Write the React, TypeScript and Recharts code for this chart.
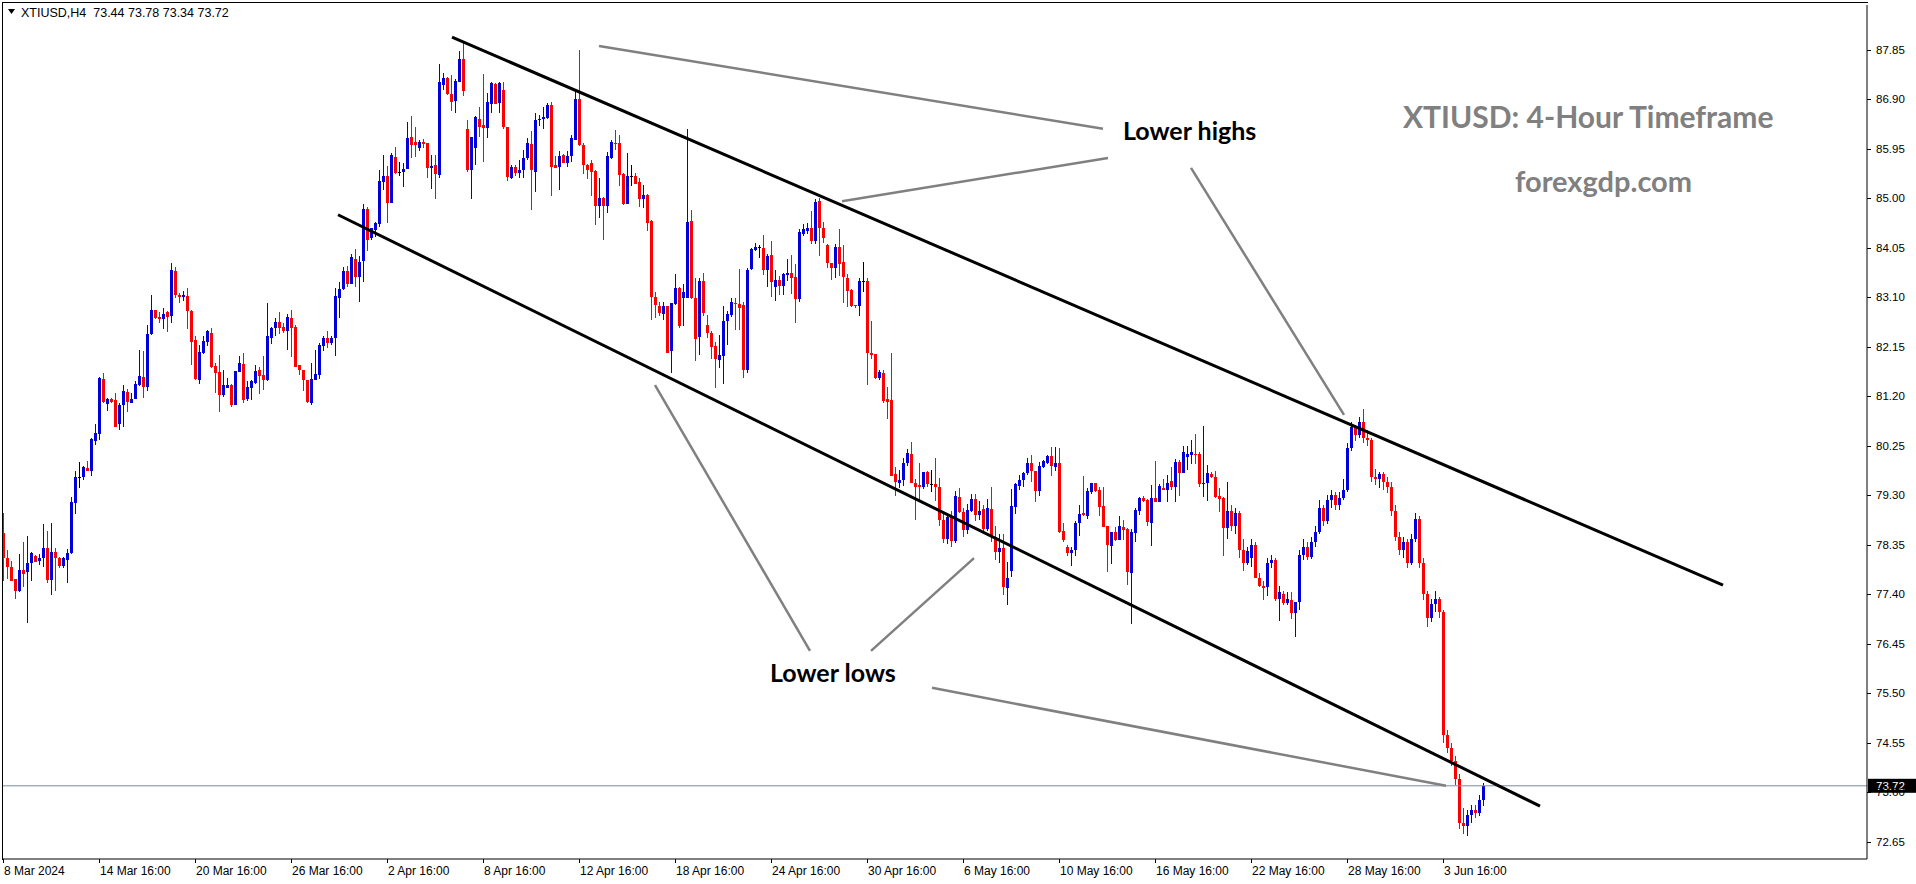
import React from 'react';
import { ComposedChart, Bar, XAxis, YAxis, ReferenceLine } from 'recharts';

// XTIUSD H4 candles (oldest first)
const opens = [
  78.57, 78.09, 77.91, 77.68, 77.46, 77.86, 77.82, 77.99, 78.13, 78.03,
  78.09, 78.28, 77.67, 78.21, 78.09, 77.94, 78.05, 78.19, 79.14, 79.64,
  79.65, 79.81, 79.77, 80.34, 80.48, 81.52, 81.04, 81.14, 81.12, 80.66,
  81.02, 81.27, 81.06, 81.14, 81.41, 81.57, 81.38, 82.39, 82.85, 82.71,
  82.67, 82.81, 82.74, 83.6, 83.14, 83.11, 83.12, 82.83, 82.28, 81.51,
  82.02, 82.24, 82.42, 81.78, 81.67, 81.23, 81.36, 81.41, 81.03, 81.67,
  81.82, 81.14, 81.35, 81.46, 81.7, 81.6, 81.51, 82.32, 82.5, 82.62,
  82.53, 82.44, 82.7, 82.53, 81.8, 81.7, 81.5, 81.07, 81.51, 81.6,
  82.16, 82.32, 82.21, 82.31, 83.09, 83.26, 83.6, 83.36, 83.84, 83.49,
  83.79, 84.79, 84.23, 84.39, 84.5, 85.31, 85.42, 84.91, 85.79, 85.5,
  85.5, 85.56, 86.17, 86.08, 85.97, 86.08, 86.05, 85.58, 85.63, 85.44,
  87.18, 87.31, 87.0, 86.86, 87.23, 87.67, 86.33, 85.54, 85.97, 86.52,
  86.4, 86.34, 86.81, 87.19, 86.82, 87.07, 86.37, 85.39, 85.6, 85.49,
  85.54, 85.76, 86.04, 85.51, 86.49, 86.51, 86.54, 86.79, 85.63, 85.6,
  85.83, 85.67, 85.81, 86.11, 86.91, 86.02, 85.63, 85.68, 85.52, 84.84,
  85.01, 84.85, 85.76, 86.05, 86.05, 85.46, 84.88, 85.42, 85.43, 85.3,
  84.99, 85.06, 84.56, 83.11, 82.93, 82.78, 82.92, 82.07, 82.97, 83.27,
  83.09, 83.08, 84.56, 83.09, 82.33, 83.41, 82.56, 82.42, 82.16, 81.9,
  81.96, 82.65, 82.76, 82.98, 82.96, 82.95, 81.71, 83.63, 84.0, 84.055,
  84.04, 83.62, 83.9, 83.3, 83.42, 83.32, 83.52, 83.57, 83.49, 83.06,
  84.32, 84.37, 84.42, 84.18, 84.94, 84.43, 84.1, 83.75, 83.65, 84.06,
  83.77, 83.47, 83.24, 82.95, 82.92, 83.415, 83.41, 82.03, 82.01, 81.55,
  81.64, 81.14, 81.12, 79.7, 79.54, 79.58, 79.91, 80.09, 79.54, 79.49,
  79.46, 79.74, 79.51, 79.52, 79.46, 78.82, 78.45, 78.88, 78.42, 79.26,
  78.98, 78.62, 79.0, 79.22, 78.92, 79.03, 78.65, 79.03, 78.5, 78.2,
  78.28, 77.51, 77.85, 79.08, 79.47, 79.59, 79.72, 79.91, 79.76, 79.38,
  79.83, 79.92, 80.05, 79.84, 79.91, 78.61, 78.3, 78.19, 78.25, 78.77,
  78.96, 78.9, 79.35, 79.53, 79.4, 79.09, 78.71, 78.33, 78.6, 78.44,
  78.68, 78.64, 77.81, 78.58, 78.99, 79.25, 79.21, 78.77, 79.24, 79.17,
  79.44, 79.4, 79.57, 79.46, 79.94, 79.73, 80.04, 80.07, 80.08, 80.08,
  79.51, 79.54, 79.7, 79.65, 79.28, 79.25, 78.66, 78.99, 78.7, 78.95,
  78.25, 78.0, 78.1, 78.35, 77.7, 77.55, 77.54, 78.0, 78.05, 77.3,
  77.4, 77.23, 77.29, 77.04, 77.25, 78.15, 78.3, 78.12, 78.4, 78.6,
  79.05, 78.8, 79.2, 79.3, 79.1, 79.25, 79.4, 80.2, 80.6, 80.45,
  80.7, 80.4, 80.35, 79.65, 79.6, 79.7, 79.55, 79.45, 79.0, 78.5,
  78.25, 78.4, 78.0, 78.45, 78.85, 78.0, 77.4, 76.95, 77.2, 77.3,
  77.05, 74.7, 74.45, 74.2, 73.85, 73.0, 72.95, 73.15, 73.25, 73.2, 73.44,
];

const highs = [
  78.95, 78.25, 78.03, 77.68, 78.17, 78.4, 78.51, 78.21, 78.15, 78.17,
  78.74, 78.61, 78.76, 78.28, 78.12, 78.12, 78.26, 79.27, 79.77, 79.93,
  79.86, 79.95, 80.39, 80.66, 81.57, 81.65, 81.16, 81.16, 81.25, 81.06,
  81.41, 81.34, 81.25, 81.49, 82.08, 82.07, 82.56, 83.14, 82.86, 82.82,
  82.9, 82.84, 83.76, 83.68, 83.18, 83.22, 83.27, 82.85, 82.35, 82.18,
  82.35, 82.47, 82.5, 81.84, 81.99, 81.71, 81.54, 81.43, 81.68, 81.97,
  82.02, 81.48, 81.5, 81.8, 81.76, 81.96, 82.99, 82.53, 82.69, 82.82,
  82.6, 82.78, 82.85, 82.56, 81.8, 81.71, 81.51, 81.84, 82.08, 82.22,
  82.35, 82.45, 82.35, 83.27, 83.38, 83.68, 83.7, 83.93, 84.02, 83.88,
  84.89, 84.83, 84.43, 84.54, 85.54, 85.83, 85.61, 85.87, 85.98, 85.69,
  85.67, 86.46, 86.58, 86.36, 86.11, 86.13, 86.06, 85.83, 85.83, 87.57,
  87.41, 87.33, 87.36, 87.29, 87.82, 87.97, 86.5, 86.17, 86.58, 86.75,
  87.38, 87.01, 87.23, 87.2, 87.23, 87.23, 86.37, 85.63, 85.63, 85.73,
  85.92, 86.15, 86.28, 86.63, 86.59, 86.74, 86.83, 86.85, 85.8, 85.91,
  85.85, 85.91, 86.21, 87.07, 87.84, 86.06, 85.66, 85.73, 85.54, 85.38,
  85.03, 85.89, 86.11, 86.31, 86.21, 85.475, 85.86, 85.63, 85.475, 85.38,
  85.25, 85.08, 84.57, 83.2, 83.01, 83.01, 82.92, 82.99, 83.54, 83.29,
  83.36, 86.33, 84.77, 83.46, 83.46, 83.57, 82.76, 82.45, 82.24, 82.37,
  82.93, 82.83, 83.08, 83.08, 83.63, 83.0, 83.65, 84.05, 84.13, 84.1,
  84.29, 83.93, 84.18, 83.62, 83.5, 83.56, 83.83, 83.91, 83.74, 84.4,
  84.5, 84.53, 84.76, 84.99, 85.01, 84.55, 84.12, 83.76, 84.12, 84.41,
  84.1, 83.54, 83.26, 82.95, 83.46, 83.77, 83.46, 82.64, 82.01, 81.7,
  81.7, 81.38, 82.02, 79.83, 79.78, 80.01, 80.18, 80.31, 79.61, 79.91,
  79.75, 79.76, 79.78, 80.01, 79.62, 78.95, 78.95, 79.0, 79.38, 79.43,
  79.05, 79.12, 79.33, 79.33, 79.19, 79.1, 79.22, 79.46, 78.7, 78.55,
  78.55, 78.01, 79.42, 79.54, 79.69, 79.75, 80.02, 80.07, 79.77, 79.93,
  79.97, 80.07, 80.23, 80.22, 80.21, 78.76, 78.34, 78.31, 78.8, 79.11,
  79.67, 79.43, 79.54, 79.54, 79.45, 79.45, 78.71, 78.6, 78.68, 78.89,
  78.83, 78.66, 78.64, 79.06, 79.27, 79.28, 79.22, 79.49, 79.95, 79.51,
  79.6, 79.69, 79.83, 79.99, 79.97, 80.24, 80.24, 80.36, 80.48, 80.13,
  80.63, 79.88, 79.75, 79.77, 79.43, 79.27, 79.56, 79.1, 79.05, 79.0,
  78.45, 78.3, 78.45, 78.4, 77.8, 77.66, 78.1, 78.15, 78.1, 77.55,
  77.46, 77.43, 77.43, 77.25, 78.25, 78.45, 78.4, 78.5, 78.7, 79.2,
  79.1, 79.3, 79.4, 79.35, 79.35, 79.6, 80.3, 80.7, 80.65, 80.8,
  80.95, 80.55, 80.4, 79.8, 79.75, 79.75, 79.65, 79.55, 79.1, 78.6,
  78.5, 78.45, 78.55, 78.95, 78.9, 78.1, 77.45, 77.3, 77.45, 77.35,
  77.1, 74.8, 74.55, 74.3, 73.95, 73.3, 73.25, 73.35, 73.35, 73.55, 73.78,
];

const lows = [
  77.64, 77.7, 77.64, 77.29, 77.45, 77.53, 76.84, 77.66, 78.01, 77.96,
  77.91, 77.62, 77.37, 77.45, 77.91, 77.91, 77.61, 78.17, 78.95, 79.43,
  79.59, 79.75, 79.67, 80.25, 80.37, 81.07, 80.92, 81.07, 80.6, 80.54,
  80.6, 80.9, 81.06, 81.14, 81.38, 81.16, 81.3, 82.37, 82.69, 82.61,
  82.49, 82.44, 82.61, 83.09, 82.98, 83.03, 82.49, 81.8, 81.5, 81.43,
  82.01, 82.17, 81.73, 81.27, 80.9, 81.19, 81.36, 80.98, 81.02, 81.67,
  81.06, 81.09, 81.11, 81.44, 81.25, 81.3, 81.5, 82.2, 82.34, 82.4,
  82.4, 82.08, 81.94, 81.75, 81.6, 81.3, 81.07, 81.04, 81.51, 81.52,
  82.07, 82.12, 82.17, 81.97, 82.68, 83.24, 83.3, 83.35, 83.3, 82.99,
  83.4, 83.99, 84.2, 84.25, 84.44, 85.15, 84.52, 84.91, 85.46, 85.42,
  85.21, 85.56, 85.78, 85.78, 85.89, 85.95, 85.39, 85.17, 84.98, 85.39,
  87.09, 86.98, 86.67, 86.64, 87.23, 86.95, 85.51, 84.98, 85.63, 86.18,
  85.7, 86.15, 86.64, 86.81, 86.64, 86.32, 85.33, 85.36, 85.41, 85.38,
  85.38, 85.73, 84.77, 85.12, 86.37, 86.31, 86.53, 85.04, 85.57, 85.16,
  85.67, 85.6, 85.7, 86.11, 86.0, 85.46, 85.38, 85.03, 84.48, 84.61,
  84.2, 84.72, 85.74, 85.92, 85.24, 84.87, 84.88, 85.22, 85.27, 84.82,
  84.8, 84.37, 82.65, 82.71, 82.74, 82.67, 82.01, 81.64, 82.95, 82.51,
  82.56, 83.08, 83.06, 81.86, 81.99, 82.74, 82.31, 81.92, 81.35, 81.73,
  81.44, 82.18, 82.72, 82.47, 82.45, 81.55, 81.64, 83.62, 83.97, 83.86,
  83.52, 83.3, 83.1, 83.03, 83.14, 83.14, 83.4, 83.17, 82.6, 82.99,
  84.27, 84.31, 84.12, 84.12, 83.9, 84.15, 83.65, 83.43, 83.46, 83.5,
  82.99, 82.9, 82.92, 82.9, 82.74, 83.19, 81.41, 81.92, 81.53, 81.51,
  81.06, 80.77, 79.66, 79.27, 79.43, 79.47, 79.85, 79.54, 78.82, 79.2,
  79.43, 79.46, 79.35, 79.19, 78.7, 78.38, 78.35, 78.3, 78.38, 78.95,
  78.5, 78.55, 78.98, 78.82, 78.82, 78.55, 78.6, 78.4, 78.05, 78.0,
  77.38, 77.18, 77.73, 78.95, 79.4, 79.46, 79.7, 79.56, 79.17, 79.27,
  79.81, 79.9, 79.67, 79.75, 78.58, 78.39, 78.13, 77.94, 78.12, 78.51,
  78.9, 78.84, 79.33, 79.37, 78.9, 78.68, 77.83, 77.99, 78.41, 78.42,
  78.44, 77.57, 76.81, 78.41, 78.93, 79.17, 78.71, 78.31, 79.16, 79.16,
  79.38, 79.17, 79.38, 79.17, 79.27, 79.72, 79.77, 79.9, 79.9, 79.46,
  79.27, 79.19, 79.64, 79.26, 78.96, 78.14, 78.46, 78.6, 78.55, 78.1,
  77.83, 77.96, 77.92, 77.71, 77.54, 77.29, 77.37, 77.9, 77.27, 76.88,
  77.2, 77.19, 76.92, 76.58, 77.09, 78.05, 78.05, 78.08, 78.3, 78.55,
  78.7, 78.75, 79.05, 79.0, 79.0, 79.2, 79.35, 80.15, 80.35, 80.4,
  80.3, 80.25, 79.55, 79.5, 79.45, 79.4, 79.35, 78.9, 78.4, 78.15,
  78.1, 77.9, 77.95, 78.4, 77.9, 77.3, 76.75, 76.85, 77.05, 76.95,
  74.55, 74.35, 74.1, 73.75, 72.9, 72.8, 72.75, 73.0, 73.1, 73.15, 73.34,
];

const closes = [
  78.09, 77.91, 77.66, 77.46, 77.87, 77.78, 77.99, 78.19, 78.02, 78.09,
  78.28, 77.67, 78.21, 78.09, 77.94, 78.09, 78.18, 79.17, 79.64, 79.64,
  79.83, 79.77, 80.38, 80.5, 81.55, 81.09, 81.14, 81.09, 80.61, 81.03,
  81.3, 81.09, 81.14, 81.44, 81.59, 81.37, 82.4, 82.86, 82.69, 82.68,
  82.78, 82.71, 83.62, 83.14, 83.11, 83.14, 82.84, 82.24, 81.53, 82.05,
  82.26, 82.44, 81.75, 81.64, 81.23, 81.41, 81.41, 81.03, 81.68, 81.84,
  81.12, 81.38, 81.48, 81.68, 81.59, 81.51, 82.35, 82.51, 82.63, 82.51,
  82.44, 82.72, 82.51, 81.76, 81.7, 81.5, 81.09, 81.53, 81.62, 82.18,
  82.32, 82.21, 82.32, 83.13, 83.26, 83.6, 83.36, 83.86, 83.49, 83.77,
  84.79, 84.2, 84.43, 84.52, 85.33, 85.42, 84.91, 85.83, 85.48, 85.5,
  85.56, 86.15, 86.02, 86.01, 86.08, 86.03, 85.58, 85.62, 85.46, 87.22,
  87.3, 86.99, 86.85, 87.25, 87.67, 87.06, 85.54, 86.17, 86.55, 86.37,
  86.34, 86.85, 87.2, 86.81, 87.2, 86.37, 85.4, 85.6, 85.49, 85.54,
  85.76, 86.05, 85.53, 86.5, 86.52, 86.55, 86.79, 85.6, 85.58, 85.81,
  85.68, 85.81, 86.15, 86.91, 86.02, 85.63, 85.54, 85.51, 84.84, 85.01,
  84.85, 85.81, 86.08, 86.04, 85.44, 84.88, 85.43, 85.42, 85.28, 84.99,
  85.05, 84.53, 83.1, 82.94, 82.79, 82.92, 82.03, 82.98, 83.28, 82.55,
  83.19, 84.55, 83.09, 82.3, 83.41, 82.8, 82.42, 82.15, 81.92, 81.99,
  82.64, 82.78, 83.0, 82.97, 82.9, 81.7, 83.62, 84.02, 84.055, 84.055,
  83.62, 83.88, 83.38, 83.43, 83.32, 83.54, 83.57, 83.46, 83.06, 84.34,
  84.41, 84.43, 84.18, 84.92, 84.43, 84.24, 83.76, 83.65, 84.06, 83.74,
  83.48, 83.22, 82.93, 82.92, 83.41, 83.415, 82.03, 81.99, 81.55, 81.66,
  81.11, 81.09, 79.66, 79.56, 79.59, 79.92, 80.1, 79.54, 79.46, 79.46,
  79.74, 79.52, 79.51, 79.46, 78.82, 78.45, 78.88, 78.42, 79.28, 78.98,
  78.62, 79.01, 79.22, 78.92, 79.0, 78.65, 79.05, 78.5, 78.2, 78.28,
  77.54, 77.7, 79.09, 79.51, 79.59, 79.72, 79.91, 79.77, 79.38, 79.86,
  79.95, 80.05, 79.86, 79.91, 78.6, 78.44, 78.19, 78.25, 78.77, 78.94,
  78.92, 79.38, 79.53, 79.38, 79.08, 78.69, 78.34, 78.6, 78.44, 78.71,
  78.63, 77.83, 78.6, 79.01, 79.25, 79.19, 78.79, 79.24, 79.17, 79.47,
  79.4, 79.54, 79.46, 79.94, 79.73, 80.12, 80.09, 80.12, 80.07, 79.51,
  79.54, 79.72, 79.65, 79.27, 79.22, 78.67, 78.99, 78.7, 78.95, 78.25,
  78.0, 78.22, 78.35, 77.71, 77.55, 77.52, 78.0, 78.05, 77.31, 77.43,
  77.23, 77.3, 77.04, 77.24, 78.15, 78.3, 78.12, 78.4, 78.6, 79.05,
  78.8, 79.2, 79.3, 79.1, 79.25, 79.4, 80.2, 80.6, 80.45, 80.7,
  80.4, 80.35, 79.65, 79.6, 79.7, 79.55, 79.45, 79.0, 78.5, 78.25,
  78.4, 78.0, 78.45, 78.85, 78.0, 77.4, 76.95, 77.2, 77.3, 77.05,
  74.7, 74.45, 74.2, 73.85, 73.0, 72.95, 73.15, 73.25, 73.2, 73.44, 73.72,
];

// one label every 24 bars
const timeLabels = [
  '8 Mar 2024', '14 Mar 16:00', '20 Mar 16:00', '26 Mar 16:00', '2 Apr 16:00',
  '8 Apr 16:00', '12 Apr 16:00', '18 Apr 16:00', '24 Apr 16:00', '30 Apr 16:00',
  '6 May 16:00', '10 May 16:00', '16 May 16:00', '22 May 16:00', '28 May 16:00',
  '3 Jun 16:00',
];
const priceTicks = [
  87.85, 86.9, 85.95, 85.0, 84.05, 83.1, 82.15, 81.2, 80.25, 79.3,
  78.35, 77.4, 76.45, 75.5, 74.55, 73.6, 72.65,
];

// trend lines as [bar index, price] pairs
const upperChannel = [[112.25, 88.09], [430, 77.57]];
const lowerChannel = [[83.75, 84.68], [384.25, 73.33]];
const pointerLines = [
  [[149, 87.92], [275, 86.33]],
  [[209.75, 84.94], [276.25, 85.77]],
  [[297, 85.58], [335.25, 80.84]],
  [[163, 81.41], [201.75, 76.31]],
  [[217, 76.31], [242.75, 78.09]],
  [[232.25, 75.6], [360.75, 73.72]],
];

const BULL = '#0000dc';
const BEAR = '#ff0000';
const DOJI = '#000000';
const AXIS_FONT = '"Liberation Sans", "DejaVu Sans", sans-serif';
const NOTE_FONT = 'Lato, "Open Sans", sans-serif';

const data = opens.map((open, i) => ({
  i,
  open,
  high: highs[i],
  low: lows[i],
  close: closes[i],
  range: [lows[i], highs[i]],
}));
const last = data[data.length - 1];

function Candle(props: any) {
  const { x, y, width, height, payload } = props;
  if (!payload) return null;
  const { open, close, high, low } = payload;
  const cx = Math.round(x + width / 2);
  const span = high - low;
  const toY = (p: number) => (span === 0 ? y : y + ((high - p) / span) * height);
  const color = close > open ? BULL : close < open ? BEAR : DOJI;
  const top = Math.round(toY(Math.max(open, close)));
  const bottom = Math.round(toY(Math.min(open, close)));
  return (
    <g shapeRendering="crispEdges">
      <rect x={cx} y={Math.round(y)} width={1} height={Math.max(1, Math.round(height))} fill={color} />
      <rect x={cx - 1} y={top} width={3} height={Math.max(1, bottom - top)} fill={color} />
    </g>
  );
}

function TimeTick(props: any) {
  const { x, y, payload } = props;
  const label = timeLabels[Math.round(payload.value / 24)];
  return (
    <g>
      <rect x={Math.round(x)} y={y} width={1} height={4} fill="#000" />
      <text x={Math.round(x) + 1} y={y + 16} fontSize={12} fontFamily={AXIS_FONT} fill="#000" textAnchor="start">
        {label}
      </text>
    </g>
  );
}

function PriceTick(props: any) {
  const { x, y, payload } = props;
  return (
    <g>
      <rect x={x} y={Math.round(y)} width={4} height={1} fill="#000" />
      <text x={x + 9} y={y + 4} fontSize={11.5} fontFamily={AXIS_FONT} fill="#000" textAnchor="start">
        {payload.value.toFixed(2)}
      </text>
    </g>
  );
}

function PriceBox(props: any) {
  const vb = props.viewBox;
  if (!vb) return null;
  const x = vb.x + vb.width + 1;
  return (
    <g>
      <rect x={x} y={vb.y - 7} width={48} height={14} fill="#000" />
      <text x={x + 8} y={vb.y + 4} fontSize={11.5} fontFamily={AXIS_FONT} fill="#fff">
        {last.close.toFixed(2)}
      </text>
    </g>
  );
}

const seg = (pair: number[][]) => pair.map(([x, y]) => ({ x, y }));

export default function App() {
  return (
    <div style={{ position: 'relative', width: 1916, height: 884, background: '#fff' }}>
      <style>{'body{margin:0;background:#fff}'}</style>
      <ComposedChart
        width={1916}
        height={884}
        data={data}
        margin={{ top: 5, right: 0, bottom: 0, left: 2 }}
      >
        <XAxis
          dataKey="i"
          type="number"
          domain={[-0.25, 466]}
          allowDataOverflow
          ticks={timeLabels.map((_, k) => k * 24)}
          height={25}
          tickSize={0}
          tickMargin={0}
          axisLine={{ stroke: '#000' }}
          tick={<TimeTick />}
          interval={0}
        />
        <YAxis
          orientation="right"
          type="number"
          domain={[72.315, 88.706]}
          allowDataOverflow
          ticks={priceTicks}
          width={49}
          tickSize={0}
          tickMargin={0}
          axisLine={{ stroke: '#000' }}
          tick={<PriceTick />}
          interval={0}
        />
        <Bar dataKey="range" barSize={3} shape={<Candle />} isAnimationActive={false} />
        <ReferenceLine y={last.close} stroke="#7a8aa0" strokeWidth={1} label={<PriceBox />} />
        {pointerLines.map((p, k) => (
          <ReferenceLine key={k} segment={seg(p)} stroke="#808080" strokeWidth={2.5} />
        ))}
        <ReferenceLine segment={seg(upperChannel)} stroke="#000" strokeWidth={3} />
        <ReferenceLine segment={seg(lowerChannel)} stroke="#000" strokeWidth={3} />
      </ComposedChart>
      <svg
        width={1916}
        height={884}
        style={{ position: 'absolute', left: 0, top: 0, pointerEvents: 'none' }}
      >
        <rect x={2} y={2} width={1} height={858} fill="#000" />
        <rect x={2} y={2} width={1866} height={1} fill="#000" />
        <path d="M8 9 L15 9 L11.5 14 Z" fill="#000" />
        <text x={21} y={17} fontSize={12.5} fontFamily={AXIS_FONT} fill="#000" xmlSpace="preserve">
          {`XTIUSD,H4  ${last.open.toFixed(2)} ${last.high.toFixed(2)} ${last.low.toFixed(2)} ${last.close.toFixed(2)}`}
        </text>
        <text x={1403} y={128} fontSize={30} fontWeight={700} fontFamily={NOTE_FONT} fill="#808080">
          XTIUSD: 4-Hour Timeframe
        </text>
        <text x={1515} y={192} fontSize={29} fontWeight={700} fontFamily={NOTE_FONT} fill="#808080">
          forexgdp.com
        </text>
        <text x={1123} y={140} fontSize={25} fontWeight={700} fontFamily={NOTE_FONT} fill="#000">
          Lower highs
        </text>
        <text x={770} y={682} fontSize={25} fontWeight={700} fontFamily={NOTE_FONT} fill="#000">
          Lower lows
        </text>
      </svg>
    </div>
  );
}
